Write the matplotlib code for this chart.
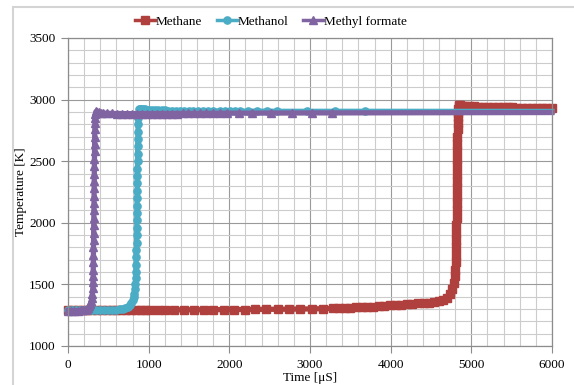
import numpy as np
import matplotlib.pyplot as plt
from matplotlib.patches import Rectangle
from matplotlib.ticker import MultipleLocator

plt.rcParams['font.family'] = ['Liberation Serif', 'DejaVu Serif']

# Methane
t_ch4 = [0, 60, 120, 180, 240, 300, 360, 420, 480, 540, 600, 660, 720, 780, 840, 900, 960, 1020,
         1110, 1200, 1320, 1440, 1560, 1680, 1800, 1930, 2060, 2190, 2320, 2460, 2600, 2740, 2880, 3020, 3160, 3290,
         3360, 3430, 3500, 3570, 3640, 3710, 3780, 3850, 3920, 3990, 4060, 4130, 4200, 4270, 4340, 4410, 4480, 4540,
         4600, 4650, 4695, 4730, 4760, 4782,
         4798, 4802, 4805, 4808, 4810, 4812, 4814, 4816, 4817, 4818,
         4819, 4820, 4821, 4822, 4823, 4824, 4825, 4826, 4827, 4828,
         4830, 4832, 4834, 4836, 4838, 4841, 4845,
         4855, 4880, 4920, 4970, 5030, 5090, 5150, 5210, 5270, 5330, 5390, 5450, 5510, 5570, 5630, 5690, 5750,
         5810, 5870, 5930, 6000]
T_ch4 = [1290, 1290, 1290, 1290, 1290, 1290, 1290, 1291, 1291, 1291, 1291, 1291, 1291, 1292, 1292, 1292, 1292, 1292,
         1293, 1293, 1293, 1294, 1294, 1294, 1295, 1295, 1296, 1296, 1297, 1298, 1298, 1299, 1300, 1301, 1303, 1305,
         1308, 1310, 1312, 1314, 1316, 1318, 1320, 1323, 1326, 1329, 1332, 1335, 1338, 1341, 1345, 1349, 1353, 1357,
         1362, 1372, 1392, 1425, 1465, 1510,
         1570, 1620, 1680, 1740, 1800, 1860, 1920, 1980, 2040, 2100,
         2160, 2220, 2280, 2340, 2400, 2460, 2520, 2580, 2640, 2700,
         2760, 2810, 2855, 2895, 2925, 2945, 2955,
         2955, 2952, 2949, 2946, 2944, 2942, 2941, 2940, 2939, 2938, 2937, 2937, 2936, 2935, 2935, 2934, 2934,
         2933, 2933, 2932, 2932]

# Methanol
t_meoh = [0, 50, 100, 150, 200, 250, 300, 350, 400, 450, 500, 550, 600,
          640, 680, 710, 740, 765, 785, 800, 812, 822, 830,
          836, 840, 843, 845, 847, 849, 851, 852, 853, 854,
          855, 856, 857, 858, 859, 860, 861, 862, 863, 864,
          866, 868, 870, 872, 875,
          880, 890, 905, 925, 950, 980, 1010, 1045, 1080, 1120, 1160, 1200, 1245,
          1290, 1340, 1390, 1440, 1495, 1550, 1610, 1670, 1730, 1800, 1884, 1946,
          2008, 2070, 2132, 2231, 2342, 2466, 2590, 2962, 3309, 3680, 6000]
T_meoh = [1290, 1290, 1290, 1290, 1290, 1290, 1290, 1290, 1291, 1291, 1292, 1293, 1295,
          1298, 1303, 1310, 1320, 1333, 1350, 1370, 1395, 1425, 1460,
          1500, 1550, 1600, 1660, 1720, 1780, 1840, 1900, 1960, 2020,
          2080, 2140, 2200, 2260, 2320, 2380, 2440, 2500, 2560, 2620,
          2680, 2740, 2800, 2850, 2890,
          2920, 2926, 2925, 2923, 2921, 2919, 2917, 2916, 2915, 2914, 2913, 2912, 2911,
          2911, 2910, 2910, 2909, 2909, 2909, 2908, 2908, 2908, 2907, 2907, 2907,
          2907, 2906, 2906, 2906, 2906, 2906, 2905, 2905, 2905, 2905, 2904]

# Methyl formate
t_mf = [0, 40, 80, 120, 160, 190, 215, 235, 252, 266, 278, 288, 296, 303,
        308, 310, 312, 313, 314, 315, 316, 317, 318, 319,
        320, 321, 322, 323, 324, 325, 326, 327, 328, 329,
        330, 331, 333, 335, 337, 340, 344,
        350, 362, 380, 405, 440, 483, 545, 607, 669, 731, 793, 855, 917, 979, 1041, 1103, 1165,
        1227, 1289, 1351, 1420, 1487, 1560, 1636, 1715, 1797, 1880, 1971, 2120,
        2280, 2520, 2776, 3020, 3272, 6000]
T_mf = [1288, 1288, 1288, 1288, 1289, 1291, 1295, 1302, 1312, 1325, 1342, 1362, 1390, 1425,
        1470, 1520, 1570, 1620, 1680, 1740, 1800, 1860, 1920, 1980,
        2040, 2100, 2160, 2220, 2280, 2340, 2400, 2460, 2520, 2580,
        2640, 2700, 2760, 2810, 2850, 2880, 2900,
        2905, 2903, 2898, 2894, 2891, 2889, 2888, 2887, 2887, 2886, 2886, 2886, 2886, 2886, 2886, 2886, 2887,
        2887, 2887, 2887, 2888, 2888, 2888, 2888, 2889, 2889, 2889, 2890, 2890,
        2890, 2891, 2891, 2892, 2892, 2895]

fig = plt.figure(figsize=(5.74, 3.85), dpi=100)
ax = fig.add_axes([68 / 574, 1 - 346 / 385, 484 / 574, 308 / 385])

ax.plot(t_ch4, T_ch4, '-s', color='#b0403d', lw=3.8, ms=5.2, label='Methane', clip_on=False)
ax.plot(t_meoh, T_meoh, '-o', color='#4bacc6', lw=3.8, ms=5.2, label='Methanol',
        markevery=list(range(len(t_meoh) - 1)), clip_on=False)
ax.plot(t_mf, T_mf, '-^', color='#8064a2', lw=3.8, ms=5.4, label='Methyl formate',
        markevery=list(range(len(t_mf) - 1)), clip_on=False)

ax.set_xlim(0, 6000)
ax.set_ylim(1000, 3500)
ax.xaxis.set_major_locator(MultipleLocator(1000))
ax.xaxis.set_minor_locator(MultipleLocator(200))
ax.yaxis.set_major_locator(MultipleLocator(500))
ax.yaxis.set_minor_locator(MultipleLocator(100))
ax.grid(which='major', color='#9a9a9a', lw=0.8)
ax.grid(which='minor', color='#cccccc', lw=0.8)
ax.set_axisbelow(True)
for s in ax.spines.values():
    s.set_color('#8c8c8c')
    s.set_linewidth(0.9)
ax.tick_params(which='major', length=5, color='#8c8c8c', labelsize=9.5, pad=4)
ax.tick_params(which='minor', length=0)

ax.set_xlabel('Time [μS]', fontsize=9.5, labelpad=1)
ax.set_ylabel('Temperature [K]', fontsize=9.5, labelpad=1)

leg = fig.legend(loc='center', bbox_to_anchor=(271 / 574, 1 - 22 / 385), ncol=3, frameon=False,
                 fontsize=9.5, handlelength=1.5, handletextpad=0.1, columnspacing=1.1, borderpad=0)
for h in leg.legend_handles:
    h.set_linewidth(2.5)

fig.patches.append(Rectangle((13 / 574, -0.1), 1.2, 1.1 - 7 / 385, transform=fig.transFigure,
                             fill=False, edgecolor='#d4d4d4', lw=1.5))

fig.savefig('out.png', dpi=100)
